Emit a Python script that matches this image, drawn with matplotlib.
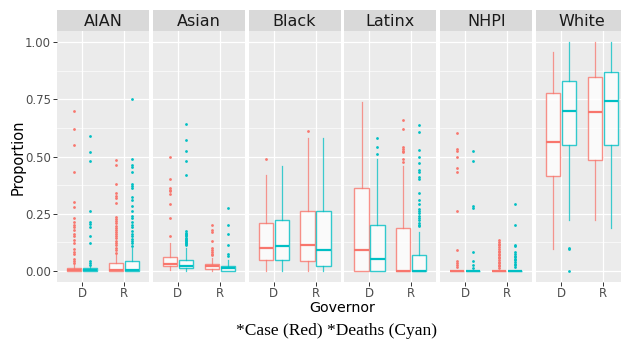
import matplotlib.pyplot as plt
from matplotlib.ticker import MultipleLocator, FormatStrFormatter

groups = ["AIAN", "Asian", "Black", "Latinx", "NHPI", "White"]
governors = ["D", "R"]
measures = ["Case", "Deaths"]

# box stats per group, order: D-Case, D-Deaths, R-Case, R-Deaths
whislo = [[0, 0, 0, 0],
          [0.004, 0, 0, 0],
          [0, 0, 0, 0],
          [0, 0, 0, 0],
          [0, 0, 0, 0],
          [0.094, 0.22, 0.22, 0.185]]
q1 = [[0, 0, 0, 0],
      [0.019, 0.010, 0.009, 0.0],
      [0.048, 0.048, 0.040, 0.022],
      [0, 0, 0, 0],
      [0, 0, 0, 0],
      [0.414, 0.55, 0.484, 0.55]]
med = [[0.004, 0.004, 0.004, 0.004],
       [0.031, 0.022, 0.019, 0.010],
       [0.100, 0.106, 0.110, 0.092],
       [0.090, 0.050, 0.0, 0.0],
       [0, 0, 0, 0],
       [0.5625, 0.70, 0.695, 0.744]]
q3 = [[0.012, 0.012, 0.032, 0.042],
      [0.060, 0.048, 0.030, 0.022],
      [0.210, 0.220, 0.260, 0.260],
      [0.360, 0.200, 0.187, 0.070],
      [0, 0, 0, 0],
      [0.78, 0.83, 0.847, 0.87]]
whishi = [[0.028, 0.025, 0.075, 0.10],
          [0.12, 0.10, 0.055, 0.045],
          [0.42, 0.46, 0.58, 0.58],
          [0.74, 0.49, 0.46, 0.17],
          [0, 0, 0, 0],
          [0.96, 1.0, 1.0, 1.0]]

aian_out = [
    [0.70, 0.62, 0.55, 0.43, 0.30, 0.28, 0.23, 0.213, 0.20, 0.19, 0.18, 0.16,
     0.15, 0.136, 0.122, 0.093, 0.08, 0.073, 0.051, 0.041, 0.034],
    [0.59, 0.52, 0.48, 0.26, 0.211, 0.203, 0.192, 0.15, 0.12, 0.041, 0.034, 0.026],
    [0.483, 0.461, 0.38, 0.34, 0.329, 0.319, 0.297, 0.235, 0.226, 0.216, 0.207,
     0.197, 0.188, 0.178, 0.169, 0.16, 0.15, 0.141, 0.131, 0.121, 0.111, 0.101,
     0.089, 0.077],
    [0.751, 0.491, 0.461, 0.452, 0.431, 0.38, 0.37, 0.36, 0.322, 0.311, 0.281,
     0.259, 0.241, 0.23, 0.211, 0.201, 0.191, 0.172, 0.16, 0.15, 0.14, 0.13,
     0.12, 0.109],
]
asian_out = [
    [0.50, 0.40, 0.362, 0.354, 0.347, 0.337, 0.292, 0.232, 0.15],
    [0.641, 0.571, 0.522, 0.481, 0.42, 0.172, 0.165, 0.16, 0.155, 0.15, 0.145,
     0.14, 0.135, 0.13, 0.125, 0.12, 0.115, 0.11],
    [0.201, 0.179, 0.169, 0.131, 0.099, 0.09, 0.082, 0.073, 0.067],
    [0.273, 0.20, 0.159, 0.111, 0.073, 0.063],
]
black_out = [[0.49], [], [0.61], []]
latinx_out = [
    [],
    [0.51, 0.54, 0.58],
    [0.66, 0.62, 0.54, 0.535, 0.525, 0.52, 0.49, 0.475],
    [0.636, 0.606, 0.529, 0.50, 0.471, 0.44, 0.433, 0.41, 0.402, 0.341, 0.31,
     0.292, 0.271, 0.261, 0.251, 0.241, 0.23, 0.22, 0.21, 0.20, 0.194],
]
nhpi_out = [
    [0.602, 0.531, 0.522, 0.50, 0.45, 0.43, 0.261, 0.09, 0.041, 0.032, 0.023, 0.015],
    [0.522, 0.481, 0.281, 0.274, 0.08, 0.041, 0.023, 0.012],
    [0.133, 0.125, 0.118, 0.11, 0.102, 0.095, 0.088, 0.081, 0.074, 0.067, 0.06,
     0.053, 0.046, 0.039, 0.032, 0.025, 0.018, 0.011],
    [0.292, 0.201, 0.114, 0.106, 0.08, 0.073, 0.066, 0.059, 0.052, 0.045, 0.038,
     0.031, 0.024, 0.015],
]
white_out = [[], [0.10, 0.095, 0.0], [], []]
outliers = [aian_out, asian_out, black_out, latinx_out, nhpi_out, white_out]

colors = {"Case": "#F8766D", "Deaths": "#00BFC4"}

W, H = 621, 341
fig = plt.figure(figsize=(W / 100, H / 100), dpi=100)


def rect(l, t, w, h):
    return [l / W, 1 - (t + h) / H, w / W, h / H]


panel_w = 92
lefts = [57 + i * 95.8 for i in range(6)]
offsets = [-0.19, 0.19]

for g, name in enumerate(groups):
    ax = fig.add_axes(rect(lefts[g], 31, panel_w, 251))
    ax.set_facecolor("#EBEBEB")
    for s in ax.spines.values():
        s.set_visible(False)

    k = 0
    for gi, gov in enumerate(governors):
        for mi, m in enumerate(measures):
            st = dict(whislo=whislo[g][k], q1=q1[g][k], med=med[g][k],
                      q3=q3[g][k], whishi=whishi[g][k], fliers=outliers[g][k])
            c = colors[m]
            ax.bxp([st], positions=[gi + 1 + offsets[mi]], widths=0.34,
                   showcaps=False, patch_artist=True,
                   boxprops=dict(facecolor="white", edgecolor=c, lw=1.0, alpha=0.8),
                   whiskerprops=dict(color=c, lw=0.9, alpha=0.75),
                   medianprops=dict(color=c, lw=1.6),
                   flierprops=dict(marker="o", markersize=2.0, markerfacecolor=c,
                                   markeredgecolor="none"))
            k += 1

    ax.set_xlim(0.4, 2.6)
    ax.set_ylim(-0.05, 1.05)
    ax.set_yticks([0, 0.25, 0.5, 0.75, 1.0])
    ax.yaxis.set_major_formatter(FormatStrFormatter("%.2f"))
    ax.yaxis.set_minor_locator(MultipleLocator(0.125))
    ax.set_xticks([1, 2])
    ax.set_xticklabels(governors)
    ax.grid(which="major", color="white", lw=0.9)
    ax.grid(which="minor", axis="y", color="white", lw=0.45)
    ax.set_axisbelow(True)
    ax.tick_params(axis="both", which="major", length=3, width=0.7, color="#333333",
                   labelcolor="#4D4D4D", labelsize=8.5, pad=1.5)
    ax.tick_params(axis="x", pad=0.8)
    ax.tick_params(which="minor", length=0)
    if g > 0:
        ax.tick_params(axis="y", left=False, labelleft=False)

    sx = fig.add_axes(rect(lefts[g], 10, panel_w, 21))
    sx.set_facecolor("#D9D9D9")
    sx.set_xticks([])
    sx.set_yticks([])
    for s in sx.spines.values():
        s.set_visible(False)
    sx.text(0.5, 0.45, name, ha="center", va="center", fontsize=11.5,
            color="#1A1A1A", transform=sx.transAxes)

fig.text(342 / W, 1 - 311.5 / H, "Governor", ha="center", va="baseline",
         fontsize=10.3, color="black")
fig.text(18 / W, 1 - 157 / H, "Proportion", ha="center", va="center",
         rotation=90, fontsize=10.5, color="black")
fig.text(336 / W, 1 - 331 / H, "*Case (Red) *Deaths (Cyan)", ha="center",
         va="center", fontsize=12.5, family=["Liberation Serif"], color="black")

fig.savefig("out.png", dpi=100)
